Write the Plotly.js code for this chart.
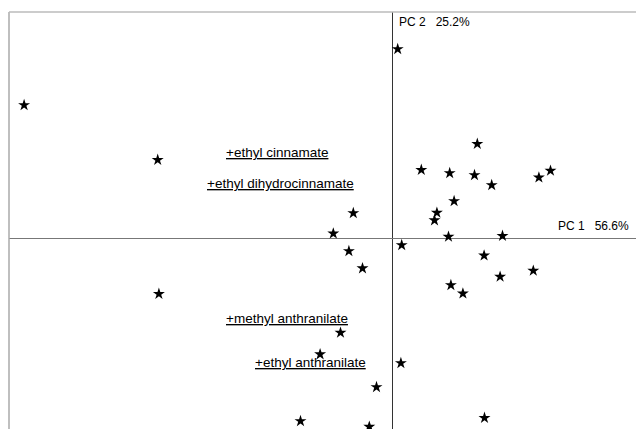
<!DOCTYPE html>
<html>
<head>
<meta charset="utf-8">
<script src="https://cdn.plot.ly/plotly-3.0.1.min.js"></script>
<style>html,body{margin:0;padding:0;background:#fff;}#chart{width:636px;height:429px;}</style>
</head>
<body>
<div id="chart"></div>
<script>
// PCA scores (PC1, PC2) of samples
const pc1 = [0.13, -9.21, -5.87, 2.12, 0.72, 1.43, 2.05, 2.48, 3.66, 3.95,
             1.54, 1.11, 1.05, 1.40, 2.75, 0.23, 2.29, 2.69, 3.52, 1.46,
             1.76, -0.98, -1.48, -1.09, -0.75, -5.84, -1.30, -1.81, 0.21, -0.40,
             -2.30, -0.58, 2.30];
const pc2 = [4.73, 3.33, 1.96, 2.36, 1.71, 1.63, 1.58, 1.33, 1.52, 1.69,
             0.93, 0.64, 0.45, 0.04, 0.06, -0.17, -0.43, -0.96, -0.81, -1.17,
             -1.38, 0.63, 0.12, -0.32, -0.75, -1.39, -2.36, -2.90, -3.12, -3.72,
             -4.57, -4.71, -4.49];

// Loading labels and their positions in PC space
const labels = ["+ethyl cinnamate", "+ethyl dihydrocinnamate", "+methyl anthranilate", "+ethyl anthranilate"];
const labelX = [-2.90, -2.79, -2.65, -2.04];
const labelY = [2.14, 1.36, -2.0, -3.11];

const axisTitles = ["PC 1   56.6%", "PC 2   25.2%"];

const font = "Liberation Sans, Arial, sans-serif";

const annotations = labels.map((t, i) => ({
  x: labelX[i], y: labelY[i], xref: 'x', yref: 'y',
  text: t, showarrow: false, xanchor: 'center', yanchor: 'middle',
  font: {family: font, size: 13.5, color: '#000', lineposition: 'under'}
}));
annotations.push({
  x: 1, xref: 'paper', y: 0, yref: 'y', text: axisTitles[0], showarrow: false,
  xanchor: 'right', yanchor: 'bottom', xshift: -5, yshift: 3,
  font: {family: font, size: 12, color: '#000'}
});
annotations.push({
  x: 0, xref: 'x', y: 1, yref: 'paper', text: axisTitles[1], showarrow: false,
  xanchor: 'left', yanchor: 'top', xshift: 4, yshift: -1,
  font: {family: font, size: 12, color: '#000'}
});

const trace = {
  x: pc1, y: pc2, mode: 'markers', type: 'scatter',
  marker: {symbol: 'star', size: 9, color: '#000', line: {width: 0}},
  hoverinfo: 'none'
};

const layout = {
  width: 636, height: 429,
  margin: {l: 9, r: 0, t: 12, b: 0, pad: 0},
  paper_bgcolor: '#fff', plot_bgcolor: '#fff',
  showlegend: false,
  xaxis: {range: [-9.5875, 6.0875], showgrid: false, showticklabels: false, ticks: '',
          zeroline: true, zerolinecolor: '#333', zerolinewidth: 1, showline: false, fixedrange: true},
  yaxis: {range: [-4.7675, 5.6575], showgrid: false, showticklabels: false, ticks: '',
          zeroline: true, zerolinecolor: '#777', zerolinewidth: 1, showline: false, fixedrange: true},
  shapes: [
    {type: 'line', xref: 'paper', yref: 'paper', x0: 0, x1: 0, y0: 0, y1: 1, line: {color: '#aaa', width: 1.5}},
    {type: 'line', xref: 'paper', yref: 'paper', x0: 0, x1: 1, y0: 1, y1: 1, line: {color: '#bbb', width: 1.5}}
  ],
  annotations: annotations
};

Plotly.newPlot('chart', [trace], layout, {staticPlot: true, displayModeBar: false});
</script>
</body>
</html>
